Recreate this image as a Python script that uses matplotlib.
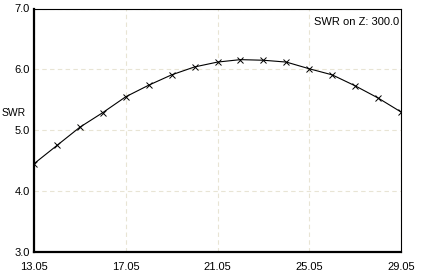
import matplotlib
matplotlib.use("Agg")
import matplotlib.pyplot as plt

plt.rcParams['font.family'] = ['Liberation Sans', 'DejaVu Sans']

# frequency (MHz) and SWR
freq = [13.05, 14.05, 15.05, 16.05, 17.05, 18.05, 19.05, 20.05, 21.05,
        22.05, 23.05, 24.05, 25.05, 26.05, 27.05, 28.05, 29.05]
swr = [4.45, 4.75, 5.05, 5.29, 5.55, 5.74, 5.91, 6.04, 6.12,
       6.16, 6.15, 6.12, 6.01, 5.91, 5.73, 5.53, 5.30]
xticks = [13.05, 17.05, 21.05, 25.05, 29.05]
yticks = [3.0, 4.0, 5.0, 6.0, 7.0]

fig = plt.figure(figsize=(4.24, 2.77), dpi=100)
ax = fig.add_axes([34/424, 25/277, 367/424, 243.5/277])

ax.plot(freq, swr, color='black', lw=0.8, marker='x', ms=5, mew=0.7)

ax.set_xlim(13.05, 29.05)
ax.set_ylim(3.0, 7.0)
ax.set_xticks(xticks)
ax.set_xticklabels(["%.2f" % t for t in xticks])
ax.set_yticks(yticks)
ax.set_yticklabels(["%.1f" % t for t in yticks])
ax.tick_params(length=0, labelsize=8, pad=3)
ax.tick_params(axis='x', pad=7)

ax.grid(True, color='#e8e4d4', ls=(0, (4, 3)), lw=0.8)
ax.set_axisbelow(True)

for s in ['top', 'right']:
    ax.spines[s].set_linewidth(0.8)
for s in ['left', 'bottom']:
    ax.spines[s].set_linewidth(1.6)

fig.text(2/424, 1 - 113/277, "SWR", fontsize=7.5, va='center', ha='left')
ax.text(0.994, 0.945, "SWR on Z: 300.0", transform=ax.transAxes,
        fontsize=8, ha='right', va='center')

fig.savefig("out.png", dpi=100)
